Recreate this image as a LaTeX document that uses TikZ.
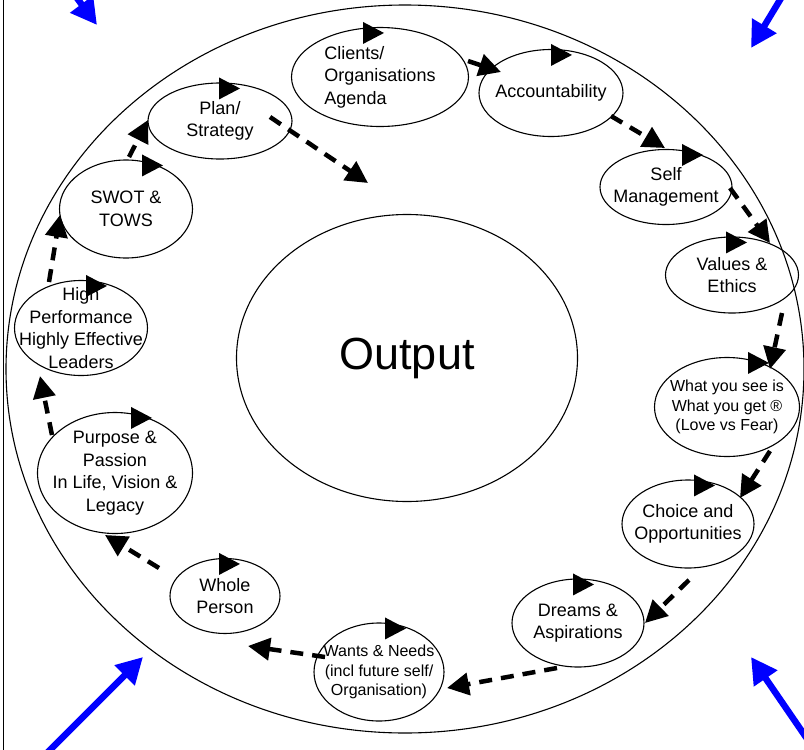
\documentclass[tikz,border=0pt]{standalone}
\usepackage{fontspec}
\setmainfont{Liberation Sans}
\usepackage{tikz}
\usetikzlibrary{arrows.meta, calc, shapes.geometric}
\tikzset{
    stage/.style={ellipse, draw=black, line width=1.1pt, inner sep=-30pt, align=center,
        font=\fontsize{18}{22.5}\selectfont},
    smallstage/.style={stage, font=\fontsize{16}{19.5}\selectfont},
    flow/.style={line width=4.5pt, dash pattern=on 13pt off 9pt, -{Triangle[length=22pt, width=22pt]}},
    push/.style={draw=blue, line width=6.5pt, -{Triangle[length=26pt, width=27pt]}}
}

\begin{document}
\begin{tikzpicture}[x=1pt, y=-1pt]
    \useasboundingbox (0,0) rectangle (804,750);
    \clip (0,0) rectangle (804,750);
    \draw[line width=1.5pt] (3.5,0) -- (3.5,750);
    \draw[line width=1.1pt] (405,369) ellipse [x radius=399, y radius=364];
    \node[stage, minimum width=341pt, minimum height=287pt, font=\fontsize{45}{50}\selectfont] (output) at (407,358) {Output};

    \node[stage, minimum width=177pt, minimum height=99pt, align=left] (clients) at (380,77) {Clients/\\Organisations\\Agenda};
    \node[stage, minimum width=144pt, minimum height=87pt] (acc) at (551,93) {Accountability};
    \node[stage, minimum width=132pt, minimum height=75pt] (self) at (666,187) {Self\\Management};
    \node[stage, minimum width=133pt, minimum height=76pt] (values) at (732,275) {Values \&\\Ethics};
    \node[smallstage, minimum width=145pt, minimum height=99pt] (wysiwyg) at (727,407) {What you see is\\What you get \textregistered\\(Love vs Fear)};
    \node[stage, minimum width=132pt, minimum height=88pt] (choice) at (688,524) {Choice and\\Opportunities};
    \node[stage, minimum width=132pt, minimum height=88pt] (dreams) at (578,623) {Dreams \&\\Aspirations};
    \node[smallstage, minimum width=130pt, minimum height=98pt] (wants) at (379,672) {Wants \& Needs\\(incl future self/\\Organisation)};
    \node[stage, minimum width=110pt, minimum height=75pt] (whole) at (225,596) {Whole\\Person};
    \node[stage, minimum width=155pt, minimum height=121pt] (purpose) at (115,473) {Purpose \&\\Passion\\In Life, Vision \&\\Legacy};
    \node[stage, minimum width=133pt, minimum height=95pt] (highperf) at (81,328) {High\\Performance\\Highly Effective\\Leaders};
    \node[stage, minimum width=133pt, minimum height=98pt] (swot) at (126,209) {SWOT \&\\TOWS};
    \node[stage, minimum width=144pt, minimum height=76pt] (plan) at (220,121) {Plan/\\Strategy};

    % turning marks on top of each stage
    \foreach \n/\d in {clients/-17, acc/0, self/16, values/-6, wysiwyg/21, choice/6, dreams/-5,
        wants/6, whole/-6, purpose/16, highperf/5, swot/16, plan/-1}
        \fill ($(\n.north)+(\d,-5)$) -- ++(0,22) -- ++(21,-11) -- cycle;

    % the cycle
    \draw[flow, dash pattern=] ($(clients)+(88,-16)$) -- ($(acc)+(-50,-21)$);
    \draw[flow] ($(acc)+(60,23)$) -- ($(self)+(-1,-39)$);
    \draw[flow] ($(self)+(64,1)$) -- ($(values)+(38,-32)$);
    \draw[flow] ($(values)+(50,38)$) -- ($(wysiwyg)+(43,-38)$);
    \draw[flow] ($(wysiwyg)+(43,44)$) -- ($(choice)+(52,-26)$);
    \draw[flow] ($(choice)+(1,56)$) -- ($(dreams)+(67,0)$);
    \draw[flow] ($(dreams)+(-21,45)$) -- ($(wants)+(68,16)$);
    \draw[flow] ($(wants)+(-54,-15)$) -- ($(whole)+(23,50)$);
    \draw[flow] ($(whole)+(-66,-28)$) -- ($(purpose)+(-10,62)$);
    \draw[flow] ($(purpose)+(-63,-38)$) -- ($(highperf)+(-41,48)$);
    \draw[flow] ($(highperf)+(-32,-46)$) -- ($(swot)+(-66,6)$);
    \draw[flow] ($(swot)+(3,-52)$) -- ($(plan)+(-72,-1)$);
    \coordinate (aim) at (368,183);
    \draw[flow] ($(plan)+(50,-4)$) -- (aim);

    % outside pushes
    \coordinate (tl0) at (62,-22);   \coordinate (tl1) at (97,25);
    \coordinate (tr0) at (795,-25);  \coordinate (tr1) at (751,48);
    \coordinate (bl0) at (40,760);   \coordinate (bl1) at (143,657);
    \coordinate (br0) at (812,746);  \coordinate (br1) at (751,657);
    \draw[push] (tl0) -- (tl1);
    \draw[push] (tr0) -- (tr1);
    \draw[push] (bl0) -- (bl1);
    \draw[push] (br0) -- (br1);
\end{tikzpicture}
\end{document}
